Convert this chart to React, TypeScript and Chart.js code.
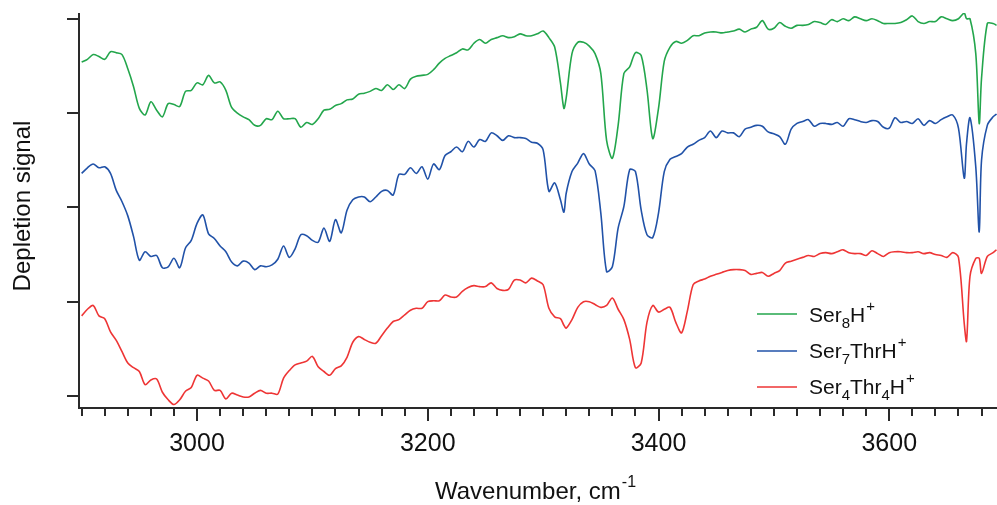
import { useEffect, useRef } from "react";
import { Chart, registerables } from "chart.js";

Chart.register(...registerables);

// Wavenumber grid (cm^-1), shared by the three spectra
const WAVENUMBER = [
  2900, 2905, 2910, 2915, 2920, 2925, 2930, 2935, 2940, 2945,
  2950, 2955, 2960, 2965, 2970, 2975, 2980, 2985, 2990, 2995,
  3000, 3005, 3010, 3015, 3020, 3025, 3030, 3035, 3040, 3045,
  3050, 3055, 3060, 3065, 3070, 3075, 3080, 3085, 3090, 3095,
  3100, 3105, 3110, 3115, 3120, 3125, 3130, 3135, 3140, 3145,
  3150, 3155, 3160, 3165, 3170, 3175, 3180, 3185, 3190, 3195,
  3200, 3205, 3210, 3215, 3220, 3225, 3230, 3235, 3240, 3245,
  3250, 3255, 3260, 3265, 3270, 3275, 3280, 3285, 3290, 3295,
  3300, 3305, 3310, 3315, 3318, 3320, 3325, 3330, 3335, 3340,
  3345, 3350, 3355, 3360, 3365, 3370, 3375, 3380, 3385, 3390,
  3395, 3400, 3405, 3410, 3415, 3420, 3425, 3430, 3435, 3440,
  3445, 3450, 3455, 3460, 3465, 3470, 3475, 3480, 3485, 3490,
  3495, 3500, 3505, 3510, 3515, 3520, 3525, 3530, 3535, 3540,
  3545, 3550, 3555, 3560, 3565, 3570, 3575, 3580, 3585, 3590,
  3595, 3600, 3605, 3610, 3615, 3620, 3625, 3630, 3635, 3640,
  3645, 3650, 3655, 3660, 3665, 3667, 3670, 3675, 3678, 3680,
  3685, 3690, 3693,
];

// Depletion signal (offset traces, arbitrary units; y tick spacing = 1)
const SER8H = [
  3.54, 3.57, 3.62, 3.60, 3.57, 3.65, 3.64, 3.62, 3.47, 3.28,
  3.05, 2.98, 3.12, 3.03, 2.96, 3.10, 3.09, 3.07, 3.23, 3.24,
  3.32, 3.30, 3.40, 3.32, 3.33, 3.24, 3.06, 3.00, 2.96, 2.93,
  2.87, 2.87, 2.94, 2.93, 3.02, 2.94, 2.94, 2.94, 2.85, 2.90,
  2.88, 2.94, 3.03, 3.04, 3.08, 3.10, 3.14, 3.15, 3.20, 3.21,
  3.23, 3.26, 3.24, 3.30, 3.25, 3.30, 3.26, 3.36, 3.39, 3.40,
  3.41, 3.46, 3.53, 3.58, 3.61, 3.64, 3.68, 3.67, 3.74, 3.78,
  3.74, 3.78, 3.80, 3.82, 3.80, 3.81, 3.84, 3.82, 3.82, 3.84,
  3.87, 3.80, 3.70, 3.32, 3.05, 3.16, 3.63, 3.75, 3.75, 3.71,
  3.63, 3.42, 2.71, 2.52, 2.87, 3.42, 3.49, 3.64, 3.61, 3.25,
  2.73, 3.05, 3.55, 3.70, 3.76, 3.74, 3.77, 3.82, 3.82, 3.85,
  3.86, 3.86, 3.85, 3.86, 3.87, 3.89, 3.86, 3.89, 3.91, 3.98,
  3.89, 3.90, 3.96, 3.92, 3.90, 3.93, 3.93, 3.94, 3.97, 3.96,
  3.94, 3.99, 3.97, 4.00, 3.98, 4.02, 4.00, 3.98, 4.00, 3.98,
  3.95, 3.95, 3.95, 3.96, 3.99, 4.03, 3.97, 3.95, 3.97, 3.97,
  4.02, 4.00, 3.98, 4.00, 4.06, 4.00, 4.00, 3.63, 2.89, 3.37,
  3.95, 3.95, 3.93,
];

const SER7THRH = [
  2.36, 2.42, 2.46, 2.42, 2.43, 2.36, 2.18, 2.06, 1.91, 1.69,
  1.44, 1.53, 1.48, 1.49, 1.36, 1.37, 1.46, 1.36, 1.57, 1.65,
  1.83, 1.92, 1.72, 1.67, 1.59, 1.53, 1.42, 1.38, 1.43, 1.41,
  1.34, 1.38, 1.37, 1.39, 1.45, 1.59, 1.47, 1.56, 1.71, 1.70,
  1.65, 1.63, 1.78, 1.64, 1.87, 1.73, 1.97, 2.08, 2.11, 2.11,
  2.06, 2.11, 2.17, 2.18, 2.13, 2.35, 2.35, 2.42, 2.36, 2.43,
  2.30, 2.46, 2.40, 2.55, 2.59, 2.64, 2.59, 2.70, 2.64, 2.72,
  2.70, 2.79, 2.76, 2.71, 2.76, 2.74, 2.74, 2.73, 2.69, 2.68,
  2.61, 2.17, 2.26, 2.08, 1.95, 2.15, 2.38, 2.47, 2.57, 2.46,
  2.39, 1.94, 1.32, 1.37, 1.78, 2.01, 2.40, 2.38, 1.97, 1.71,
  1.68, 1.94, 2.38, 2.51, 2.54, 2.57, 2.64, 2.67, 2.71, 2.74,
  2.81, 2.74, 2.81, 2.79, 2.79, 2.75, 2.83, 2.85, 2.87, 2.86,
  2.80, 2.78, 2.75, 2.67, 2.83, 2.89, 2.91, 2.93, 2.86, 2.89,
  2.89, 2.88, 2.90, 2.86, 2.94, 2.93, 2.91, 2.90, 2.92, 2.91,
  2.85, 2.84, 2.95, 2.90, 2.91, 2.89, 2.94, 2.87, 2.92, 2.89,
  2.93, 2.96, 2.98, 2.84, 2.31, 2.68, 2.95, 2.43, 1.74, 2.50,
  2.87, 2.96, 2.99,
];

const SER4THR4H = [
  0.85, 0.92, 0.96, 0.85, 0.82, 0.68, 0.59, 0.47, 0.35, 0.30,
  0.26, 0.12, 0.17, 0.18, 0.04, -0.04, -0.09, -0.04, 0.05, 0.09,
  0.22, 0.19, 0.16, 0.06, 0.06, -0.03, 0.03, 0.01, -0.01, -0.01,
  0.03, 0.06, 0.03, 0.03, 0.02, 0.19, 0.27, 0.33, 0.35, 0.37,
  0.42, 0.31, 0.26, 0.22, 0.29, 0.32, 0.41, 0.57, 0.63, 0.60,
  0.57, 0.56, 0.64, 0.72, 0.79, 0.81, 0.86, 0.91, 0.93, 0.93,
  1.00, 1.01, 1.01, 1.07, 1.05, 1.05, 1.11, 1.15, 1.17, 1.16,
  1.16, 1.20, 1.14, 1.12, 1.13, 1.23, 1.23, 1.20, 1.25, 1.22,
  1.18, 0.93, 0.84, 0.82, 0.75, 0.72, 0.81, 0.94, 1.00, 1.00,
  0.97, 0.94, 0.96, 1.04, 0.92, 0.81, 0.60, 0.30, 0.35, 0.78,
  0.96, 0.89, 0.92, 0.94, 0.78, 0.67, 0.90, 1.18, 1.22, 1.24,
  1.27, 1.29, 1.31, 1.33, 1.34, 1.34, 1.33, 1.29, 1.30, 1.31,
  1.27, 1.30, 1.33, 1.41, 1.43, 1.45, 1.47, 1.49, 1.48, 1.51,
  1.52, 1.51, 1.53, 1.55, 1.52, 1.51, 1.51, 1.49, 1.54, 1.51,
  1.48, 1.52, 1.53, 1.53, 1.52, 1.52, 1.53, 1.51, 1.52, 1.50,
  1.49, 1.47, 1.52, 1.47, 0.77, 0.58, 1.27, 1.46, 1.46, 1.30,
  1.48, 1.52, 1.55,
];

const Y_TICKS = [0, 1, 2, 3, 4];
const X_MAJOR_TICKS = [3000, 3200, 3400, 3600];
const X_MINOR_STEP = 20;
const X_MIN = 2897.7;
const X_MAX = 3693.4;
const Y_MIN = -0.127;
const Y_MAX = 4.061;

const GREEN = "#23a64c";
const BLUE = "#2152a8";
const RED = "#ee3535";
const AXIS = "#2a2a2a";
const TEXT = "#111111";
const FONT = '"Liberation Sans", Arial, sans-serif';

type Part = { t: string; s?: "sub" | "sup" };
const LEGEND: { parts: Part[]; color: string }[] = [
  { parts: [{ t: "Ser" }, { t: "8", s: "sub" }, { t: "H" }, { t: "+", s: "sup" }], color: GREEN },
  { parts: [{ t: "Ser" }, { t: "7", s: "sub" }, { t: "ThrH" }, { t: "+", s: "sup" }], color: BLUE },
  { parts: [{ t: "Ser" }, { t: "4", s: "sub" }, { t: "Thr" }, { t: "4", s: "sub" }, { t: "H" }, { t: "+", s: "sup" }], color: RED },
];

const decorations = {
  id: "decorations",
  afterDraw(chart: any) {
    const { ctx, chartArea: a, scales } = chart;
    const xs = scales.x;
    const ys = scales.y;
    ctx.save();

    // axes and ticks
    ctx.strokeStyle = AXIS;
    ctx.lineWidth = 2;
    ctx.beginPath();
    ctx.moveTo(a.left, a.top);
    ctx.lineTo(a.left, a.bottom + 1);
    ctx.moveTo(a.left - 1, a.bottom);
    ctx.lineTo(a.right, a.bottom);
    Y_TICKS.forEach((v) => {
      const y = Math.round(ys.getPixelForValue(v));
      ctx.moveTo(a.left - 12, y);
      ctx.lineTo(a.left, y);
    });
    for (let v = Math.ceil(X_MIN / X_MINOR_STEP) * X_MINOR_STEP; v <= X_MAX; v += X_MINOR_STEP) {
      const x = Math.round(xs.getPixelForValue(v));
      const major = X_MAJOR_TICKS.includes(v);
      ctx.moveTo(x, a.bottom);
      ctx.lineTo(x, a.bottom + (major ? 13 : 8));
    }
    ctx.stroke();

    // tick labels
    ctx.fillStyle = TEXT;
    ctx.font = `25px ${FONT}`;
    ctx.textAlign = "center";
    ctx.textBaseline = "alphabetic";
    X_MAJOR_TICKS.forEach((v) => ctx.fillText(String(v), xs.getPixelForValue(v), a.bottom + 43));

    // x title with superscript
    const main = "Wavenumber, cm";
    const sup = "-1";
    ctx.font = `24px ${FONT}`;
    const mw = ctx.measureText(main).width;
    ctx.font = `16px ${FONT}`;
    const sw = ctx.measureText(sup).width;
    const cx = 535;
    const x0 = cx - (mw + sw) / 2;
    ctx.textAlign = "left";
    ctx.font = `24px ${FONT}`;
    ctx.fillText(main, x0, 499);
    ctx.font = `16px ${FONT}`;
    ctx.fillText(sup, x0 + mw + 1, 487);

    // y title
    ctx.save();
    ctx.translate(30, 206);
    ctx.rotate(-Math.PI / 2);
    ctx.textAlign = "center";
    ctx.font = `24px ${FONT}`;
    ctx.fillText("Depletion signal", 0, 0);
    ctx.restore();

    // legend
    const lineY = [314, 351, 387];
    const baseY = [322, 358, 394];
    LEGEND.forEach((item, i) => {
      ctx.strokeStyle = item.color;
      ctx.lineWidth = 1.5;
      ctx.beginPath();
      ctx.moveTo(757, lineY[i]);
      ctx.lineTo(797, lineY[i]);
      ctx.stroke();
      let x = 809;
      ctx.textAlign = "left";
      item.parts.forEach((p) => {
        if (p.s === "sub") {
          ctx.font = `15px ${FONT}`;
          ctx.fillText(p.t, x, baseY[i] + 6);
        } else if (p.s === "sup") {
          ctx.font = `15px ${FONT}`;
          ctx.fillText(p.t, x + 1, baseY[i] - 11);
        } else {
          ctx.font = `21px ${FONT}`;
          ctx.fillText(p.t, x, baseY[i]);
        }
        x += ctx.measureText(p.t).width;
      });
    });

    ctx.restore();
  },
};

export default function App() {
  const ref = useRef<HTMLCanvasElement>(null);
  useEffect(() => {
    const mk = (vals: number[]) => WAVENUMBER.map((x, i) => ({ x, y: vals[i] }));
    const ds = (label: string, vals: number[], color: string) => ({
      label,
      data: mk(vals),
      borderColor: color,
      backgroundColor: color,
      borderWidth: 1.6,
      pointRadius: 0,
      tension: 0.3,
      fill: false,
    });
    const chart = new Chart(ref.current as HTMLCanvasElement, {
      type: "line",
      data: {
        datasets: [
          ds("Ser8H+", SER8H, GREEN),
          ds("Ser7ThrH+", SER7THRH, BLUE),
          ds("Ser4Thr4H+", SER4THR4H, RED),
        ],
      },
      options: {
        responsive: false,
        animation: false,
        devicePixelRatio: 1,
        layout: { padding: { left: 79, right: 0, top: 13, bottom: 97 } },
        plugins: { legend: { display: false }, tooltip: { enabled: false }, title: { display: false } },
        scales: {
          x: { type: "linear", min: X_MIN, max: X_MAX, display: false },
          y: { type: "linear", min: Y_MIN, max: Y_MAX, display: false },
        },
      },
      plugins: [decorations],
    } as any);
    return () => chart.destroy();
  }, []);
  return (
    <div style={{ position: "absolute", left: 0, top: 0, width: 997, height: 505, background: "#fff" }}>
      <canvas ref={ref} width={997} height={505} style={{ width: 997, height: 505, display: "block" }} />
    </div>
  );
}
